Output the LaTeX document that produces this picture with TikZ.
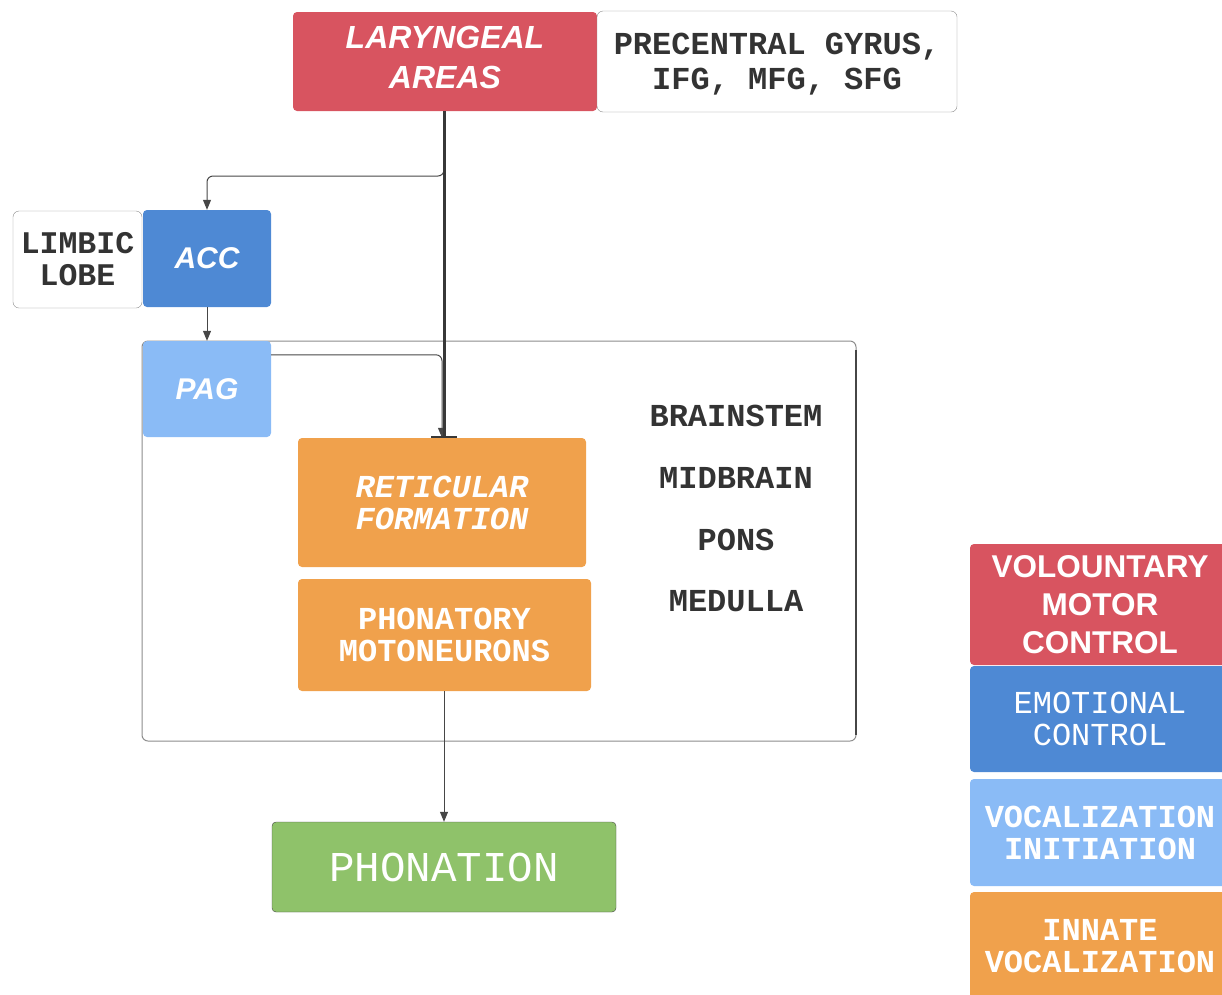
\documentclass[tikz,border=0pt]{standalone}
\usepackage{fontspec}
\setmainfont{Liberation Sans}
\setmonofont{Liberation Mono}
\usetikzlibrary{arrows.meta,positioning}
\definecolor{VoluntaryRed}{RGB}{216,84,96}
\definecolor{EmotionBlue}{RGB}{78,137,212}
\definecolor{InitBlue}{RGB}{138,187,246}
\definecolor{InnateOrange}{RGB}{240,161,76}
\definecolor{PhonGreen}{RGB}{143,194,106}
\definecolor{LabelGray}{RGB}{51,51,51}
\definecolor{EdgeGray}{RGB}{140,140,140}
\definecolor{LineGray}{RGB}{70,70,70}
\tikzset{
  area/.style={rounded corners=4pt,inner sep=0pt,text=white,align=center},
  plainbox/.style={draw=EdgeGray,fill=white,rounded corners=6pt,inner sep=0pt,
    align=center,text=LabelGray},
  stemlabel/.style={text=LabelGray,font=\ttfamily\bfseries\fontsize{32}{32}\selectfont},
  conn/.style={-{Triangle[length=10pt,width=8pt]},draw=LineGray,line width=1pt},
  direct/.style={-{Bar[width=26pt,line width=2pt]},draw=LineGray!80!black,line width=3pt}
}

\begin{document}
\begin{tikzpicture}[x=1pt,y=-1pt]
  \clip (0,0) rectangle (1222,994);
  % brainstem frame
  \draw[EdgeGray,line width=1pt,rounded corners=6pt] (142,341) rectangle (856,741);
  \draw[LineGray,line width=1.5pt] (856,350) -- (856,735);
  % cortex
  \node[area,fill=VoluntaryRed,minimum width=304pt,minimum height=99pt] (lar) at (445,61.5) {};
  \node[text=white,align=center,font=\bfseries\itshape\fontsize{32}{40}\selectfont]
    (lartext) at (445,57.5) {LARYNGEAL\\AREAS};
  \node[plainbox,minimum width=360pt,minimum height=101pt] (pre) at (777,61.5) {};
  \node[text=LabelGray,align=center,font=\ttfamily\bfseries\fontsize{32}{35}\selectfont]
    (pretext) at (777,64) {PRECENTRAL GYRUS,\\IFG, MFG, SFG};
  % limbic
  \node[plainbox,minimum width=129pt,minimum height=97pt,
    font=\ttfamily\bfseries\fontsize{31.5}{32}\selectfont] (limbic) at (77.5,259.5) {LIMBIC\\LOBE};
  \node[area,fill=EmotionBlue,minimum width=128pt,minimum height=97pt,
    font=\bfseries\itshape\fontsize{30}{30}\selectfont] (acc) at (207,258.5) {ACC};
  \node[area,fill=InitBlue,minimum width=128pt,minimum height=96pt,
    font=\bfseries\itshape\fontsize{30}{30}\selectfont] (pag) at (207,389) {PAG};
  % brainstem nuclei
  \node[area,fill=InnateOrange,minimum width=288pt,minimum height=129pt,
    font=\ttfamily\bfseries\itshape\fontsize{32}{32}\selectfont] (ret) at (442,502.5) {RETICULAR\\FORMATION};
  \node[area,fill=InnateOrange,minimum width=293pt,minimum height=112pt,
    font=\ttfamily\bfseries\fontsize{32}{32}\selectfont] (moto) at (444.5,635) {PHONATORY\\MOTONEURONS};
  \node[area,fill=PhonGreen,draw=LineGray,minimum width=344pt,minimum height=90pt,
    font=\ttfamily\fontsize{42.5}{42.5}\selectfont] (phon) at (444,867) {PHONATION};
  % levels
  \node[stemlabel] (bs) at (736,416) {BRAINSTEM};
  \node[stemlabel] (mid) at (736,478) {MIDBRAIN};
  \node[stemlabel] (pons) at (736,540) {PONS};
  \node[stemlabel] (med) at (736,601) {MEDULLA};
  % legend
  \node[area,fill=VoluntaryRed,minimum width=260pt,minimum height=121pt,
    font=\bfseries\fontsize{31.5}{38}\selectfont] (vol) at (1100,604.5) {VOLOUNTARY\\MOTOR\\CONTROL};
  \node[area,fill=EmotionBlue,minimum width=260pt,minimum height=106pt,
    font=\ttfamily\fontsize{32}{32}\selectfont] (emo) at (1100,719) {EMOTIONAL\\CONTROL};
  \node[area,fill=InitBlue,minimum width=260pt,minimum height=107pt,
    font=\ttfamily\bfseries\fontsize{32}{32}\selectfont] (voc) at (1100,832.5) {VOCALIZATION\\INITIATION};
  \node[area,fill=InnateOrange,minimum width=260pt,minimum height=108pt,
    font=\ttfamily\bfseries\fontsize{32}{32}\selectfont] (inn) at (1100,946) {INNATE\\VOCALIZATION};
  % connectors
  \coordinate (split) at (444,176);
  \draw[conn,rounded corners=6pt] (lar.south -| split) -- (split) -| (acc.north);
  \draw[conn] (acc.south) -- (pag.north);
  \draw[conn,rounded corners=6pt] ([yshift=-14pt]pag.north east) -| (ret.north);
  \draw[direct] (lar.south -| split) -- (ret.north -| split);
  \draw[conn] (moto.south -| split) -- (phon.north -| split);
\end{tikzpicture}
\end{document}
